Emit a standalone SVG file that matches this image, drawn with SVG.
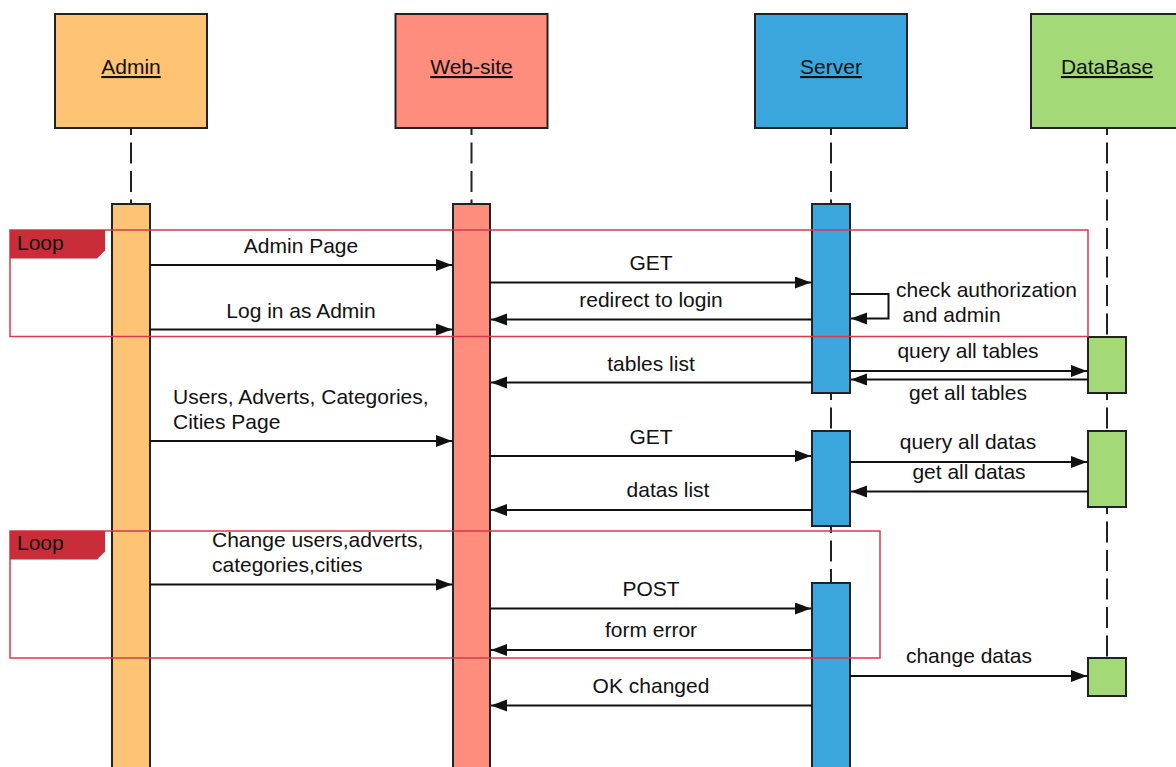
<svg xmlns="http://www.w3.org/2000/svg" width="1176" height="767" viewBox="0 0 1176 767">
<defs>
<style>
text{font-family:"Liberation Sans",Arial,sans-serif;font-size:21px;fill:#111}
.mid{text-anchor:middle}
.title{text-decoration:underline}
.box{stroke:#222;stroke-width:2}
.life{stroke:#222;stroke-width:2;stroke-dasharray:21 7.5;stroke-dashoffset:14;fill:none}
.msg{stroke:#111;stroke-width:2;fill:none;marker-end:url(#ah)}
.loop{fill:none;stroke:#D63A48;stroke-width:1.5}
.tab{fill:#C92D39}
.orange{fill:#FFC374}
.salmon{fill:#FF8D7E}
.blue{fill:#3AA6DD}
.green{fill:#A3D977}
</style>
<marker id="ah" markerUnits="userSpaceOnUse" markerWidth="17" markerHeight="13" refX="16" refY="6" orient="auto">
<path d="M0,0 L16,6 L0,12 z" fill="#111"/>
</marker>
</defs>
<rect width="1176" height="767" fill="#fff"/>

<g id="lifelines">
<line class="life" x1="131" y1="128" x2="131" y2="204"/>
<line class="life" x1="471.5" y1="128" x2="471.5" y2="204"/>
<line class="life" x1="831" y1="128" x2="831" y2="204"/>
<line class="life" x1="831" y1="393" x2="831" y2="431"/>
<line class="life" x1="831" y1="526" x2="831" y2="583"/>
<line class="life" x1="1107" y1="128" x2="1107" y2="337"/>
<line class="life" x1="1107" y1="393" x2="1107" y2="431"/>
<line class="life" x1="1107" y1="507" x2="1107" y2="658"/>
</g>

<g id="admin">
<rect class="box orange" x="55" y="14" width="152" height="114"/>
<text class="mid title" x="131" y="74">Admin</text>
<rect class="box orange" x="112" y="204" width="38" height="570"/>
</g>
<g id="website">
<rect class="box salmon" x="395.5" y="14" width="152" height="114"/>
<text class="mid title" x="471.5" y="74">Web-site</text>
<rect class="box salmon" x="453" y="204" width="37" height="570"/>
</g>
<g id="server">
<rect class="box blue" x="755" y="14" width="152" height="114"/>
<text class="mid title" x="831" y="74">Server</text>
<rect class="box blue" x="812" y="204" width="38" height="189"/>
<rect class="box blue" x="812" y="431" width="38" height="95"/>
<rect class="box blue" x="812" y="583" width="38" height="190"/>
</g>
<g id="database">
<rect class="box green" x="1031" y="14" width="152" height="114"/>
<text class="mid title" x="1107" y="74">DataBase</text>
<rect class="box green" x="1088" y="337" width="38" height="56"/>
<rect class="box green" x="1088" y="431" width="38" height="76"/>
<rect class="box green" x="1088" y="658" width="38" height="38"/>
</g>

<g id="loop1">
<rect class="loop" x="10" y="230" width="1078" height="106.5"/>
<polygon class="tab" points="10,230 105,230 105,250.5 97,258.5 10,258.5"/>
<text x="17" y="249.5">Loop</text>
</g>
<g id="loop2">
<rect class="loop" x="10" y="531" width="870" height="127"/>
<polygon class="tab" points="10,531 105,531 105,551.5 97,559.5 10,559.5"/>
<text x="17" y="550">Loop</text>
</g>

<g id="connectors">
<line class="msg" x1="150" y1="265" x2="452" y2="265"/>
<line class="msg" x1="490" y1="282.5" x2="811" y2="282.5"/>
<path class="msg" d="M850,294 H888.5 V318.5 H851"/>
<line class="msg" x1="812" y1="319.5" x2="491" y2="319.5"/>
<line class="msg" x1="150" y1="329.5" x2="452" y2="329.5"/>
<line class="msg" x1="850" y1="371" x2="1087" y2="371"/>
<line class="msg" x1="1088" y1="379.5" x2="851" y2="379.5"/>
<line class="msg" x1="812" y1="382.5" x2="491" y2="382.5"/>
<line class="msg" x1="150" y1="441" x2="452" y2="441"/>
<line class="msg" x1="490" y1="456" x2="811" y2="456"/>
<line class="msg" x1="850" y1="462" x2="1087" y2="462"/>
<line class="msg" x1="1088" y1="491.5" x2="851" y2="491.5"/>
<line class="msg" x1="812" y1="510" x2="491" y2="510"/>
<line class="msg" x1="150" y1="584.5" x2="452" y2="584.5"/>
<line class="msg" x1="490" y1="608.5" x2="811" y2="608.5"/>
<line class="msg" x1="812" y1="650" x2="491" y2="650"/>
<line class="msg" x1="850" y1="676" x2="1087" y2="676"/>
<line class="msg" x1="812" y1="705.5" x2="491" y2="705.5"/>
</g>

<g id="labels">
<text class="mid" x="301" y="253">Admin Page</text>
<text class="mid" x="651" y="270">GET</text>
<text x="896" y="297">check authorization</text>
<text x="902.5" y="322">and admin</text>
<text class="mid" x="651" y="307">redirect to login</text>
<text class="mid" x="301" y="318">Log in as Admin</text>
<text class="mid" x="968" y="358">query all tables</text>
<text class="mid" x="968" y="400">get all tables</text>
<text class="mid" x="651" y="371">tables list</text>
<text x="173" y="404">Users, Adverts, Categories,</text>
<text x="173" y="429">Cities Page</text>
<text class="mid" x="651" y="444">GET</text>
<text class="mid" x="968" y="449">query all datas</text>
<text class="mid" x="969" y="479">get all datas</text>
<text class="mid" x="668" y="497">datas list</text>
<text x="212" y="547">Change users,adverts,</text>
<text x="212" y="572">categories,cities</text>
<text class="mid" x="651" y="596">POST</text>
<text class="mid" x="651" y="637">form error</text>
<text class="mid" x="969" y="663">change datas</text>
<text class="mid" x="651" y="693">OK changed</text>
</g>
</svg>
